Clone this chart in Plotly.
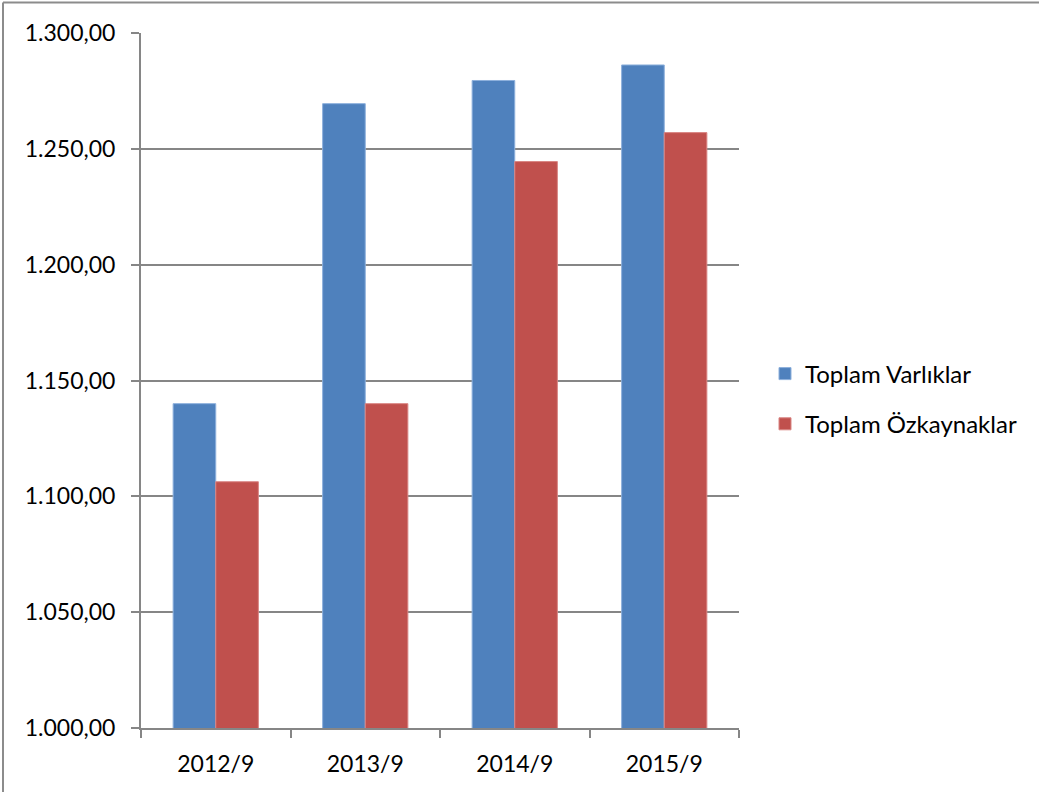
import plotly.graph_objects as go

categories = ["2012/9", "2013/9", "2014/9", "2015/9"]
varliklar = [1140.0, 1269.5, 1279.5, 1286.2]
ozkaynaklar = [1106.3, 1140.0, 1244.5, 1257.0]
tick_vals = [1000, 1050, 1100, 1150, 1200, 1250, 1300]
tick_text = ["1.000,00", "1.050,00", "1.100,00", "1.150,00", "1.200,00", "1.250,00", "1.300,00"]

W, H = 1039, 792
L, R, T, B = 141, 300, 33, 64
pw, ph = W - L - R, H - T - B

def px_x(x):
    return (x - L) / pw

def px_y(y):
    return 1 - (y - T) / ph

FONT = "Lato"

fig = go.Figure()
fig.add_trace(go.Bar(name="Toplam Varlıklar", x=categories, y=varliklar, legendgroup="a",
                     marker=dict(color="#4F81BD", line=dict(color="#8DB0DC", width=1))))
fig.add_trace(go.Bar(name="Toplam Özkaynaklar", x=categories, y=ozkaynaklar, legendgroup="b",
                     marker=dict(color="#C0504D", line=dict(color="#D98583", width=1))))

fig.update_layout(
    width=W, height=H,
    margin=dict(l=L, r=R, t=T, b=B, pad=0),
    paper_bgcolor="white", plot_bgcolor="white",
    barmode="group", bargap=0.43, bargroupgap=0,
    font=dict(family=FONT, size=23, color="black"),
    showlegend=True,
    legend=dict(x=px_x(765), y=px_y(399), yanchor="middle", xanchor="left",
                font=dict(family=FONT, size=24, color="black"),
                traceorder="grouped", tracegroupgap=16,
                bgcolor="rgba(0,0,0,0)"),
    xaxis=dict(type="category", showline=True, linecolor="#868686", linewidth=2,
               ticks="outside", tickson="boundaries", ticklen=8, tickcolor="#868686",
               tickwidth=2, showgrid=False, ticklabelstandoff=14,
               tickfont=dict(family=FONT, size=23)),
    yaxis=dict(range=[1000, 1300], tickvals=tick_vals, ticktext=tick_text,
               showline=True, linecolor="#868686", linewidth=2,
               ticks="outside", ticklen=8, tickcolor="#868686", tickwidth=2,
               showgrid=True, gridcolor="#868686", gridwidth=2, zeroline=False,
               ticklabelstandoff=11, tickfont=dict(family=FONT, size=23)),
)

# outer chart border (left and top edges visible)
fig.add_shape(type="line", xref="paper", yref="paper",
              x0=px_x(3), x1=px_x(W + 5), y0=px_y(2.5), y1=px_y(2.5),
              line=dict(color="#8C8C8C", width=2))
fig.add_shape(type="line", xref="paper", yref="paper",
              x0=px_x(3), x1=px_x(3), y0=px_y(2.5), y1=px_y(H + 5),
              line=dict(color="#8C8C8C", width=2))

fig.write_html("out.html", config={"displayModeBar": False},
               post_script="document.body.style.margin='0px';document.body.style.overflow='hidden';")
